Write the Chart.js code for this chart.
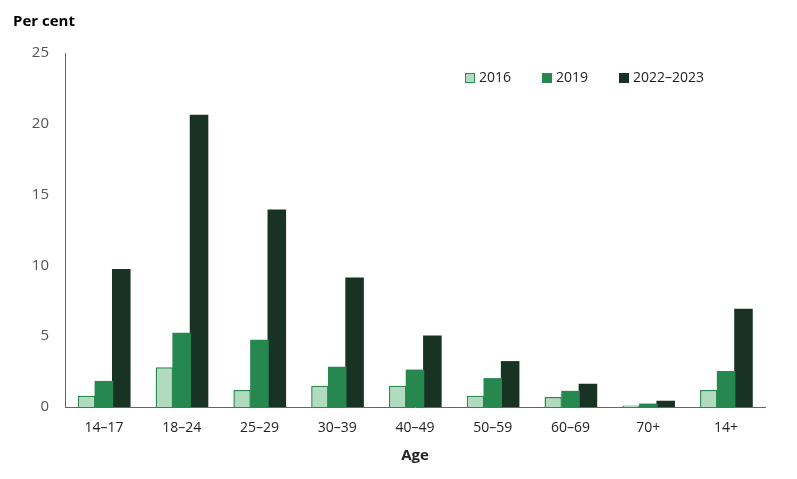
<!DOCTYPE html>
<html>
<head>
<meta charset="utf-8">
<script src="https://cdn.jsdelivr.net/npm/chart.js@4"></script>
<style>
  html, body { margin: 0; padding: 0; background: #fff; }
  #wrap { position: relative; width: 797px; height: 479px; font-family: "Open Sans", sans-serif; }
  #ytitle { position: absolute; left: 13px; top: 10px; font-size: 15px; font-weight: bold; color: #000; }
  #legend { position: absolute; top: 67px; left: 0; font-size: 14px; color: #222; }
  .item { position: absolute; white-space: nowrap; line-height: 20px; }
  .box { display: inline-block; width: 10px; height: 10px; box-sizing: border-box; vertical-align: -1px; margin-right: 4px; }
</style>
</head>
<body>
<div id="wrap">
  <canvas id="barChart" width="797" height="479"></canvas>
  <div id="ytitle">Per cent</div>
  <div id="legend"></div>
</div>
<script>
const ageGroups = ['14–17', '18–24', '25–29', '30–39', '40–49', '50–59', '60–69', '70+', '14+'];
const seriesNames = ['2016', '2019', '2022–2023'];
const values2016 = [0.8, 2.8, 1.2, 1.5, 1.5, 0.8, 0.7, 0.1, 1.2];
const values2019 = [1.8, 5.2, 4.7, 2.8, 2.6, 2.0, 1.1, 0.2, 2.5];
const values2022 = [9.7, 20.6, 13.9, 9.1, 5.0, 3.2, 1.6, 0.4, 6.9];
const yTicks = [0, 5, 10, 15, 20, 25];

const fills = ['#b0dbbf', '#26874f', '#183324'];
const borders = ['#2a8a52', '#26874f', '#183324'];
const legendX = [465, 542, 619];

const legend = document.getElementById('legend');
seriesNames.forEach((name, i) => {
  const item = document.createElement('span');
  item.className = 'item';
  item.style.left = legendX[i] + 'px';
  const box = document.createElement('span');
  box.className = 'box';
  box.style.background = fills[i];
  box.style.border = i === 0 ? '1.5px solid ' + borders[0] : 'none';
  item.appendChild(box);
  item.appendChild(document.createTextNode(name));
  legend.appendChild(item);
});

new Chart(document.getElementById('barChart'), {
  type: 'bar',
  data: {
    labels: ageGroups,
    datasets: [values2016, values2019, values2022].map((vals, i) => ({
      label: seriesNames[i],
      data: vals,
      backgroundColor: fills[i],
      borderColor: borders[i],
      borderWidth: i === 0 ? 1.5 : 0,
      inflateAmount: i === 0 ? 0 : 0.6,
      barPercentage: 1,
      categoryPercentage: 0.67,
    })),
  },
  options: {
    responsive: false,
    animation: false,
    layout: {
      padding: { top: 53, right: 32, bottom: 0, left: 0 },
    },
    scales: {
      x: {
        grid: { display: false, drawTicks: false },
        border: { color: '#666', width: 1 },
        ticks: {
          color: '#222',
          padding: 13,
          font: { family: 'Open Sans', size: 14 },
        },
        title: {
          display: true,
          text: 'Age',
          color: '#222',
          font: { family: 'Open Sans', size: 15, weight: 'bold' },
          padding: { top: 4, bottom: 14 },
        },
        afterFit: (scale) => { scale.height = 72; },
      },
      y: {
        min: 0,
        max: 25,
        afterBuildTicks: (scale) => { scale.ticks = yTicks.map((v) => ({ value: v })); },
        grid: { display: false, drawTicks: false },
        border: { color: '#666', width: 1 },
        ticks: {
          color: '#555',
          padding: 16,
          font: { family: 'Open Sans', size: 15 },
        },
        afterFit: (scale) => { scale.width = 65; },
      },
    },
    plugins: {
      legend: { display: false },
      tooltip: { enabled: false },
    },
  },
});
</script>
</body>
</html>
